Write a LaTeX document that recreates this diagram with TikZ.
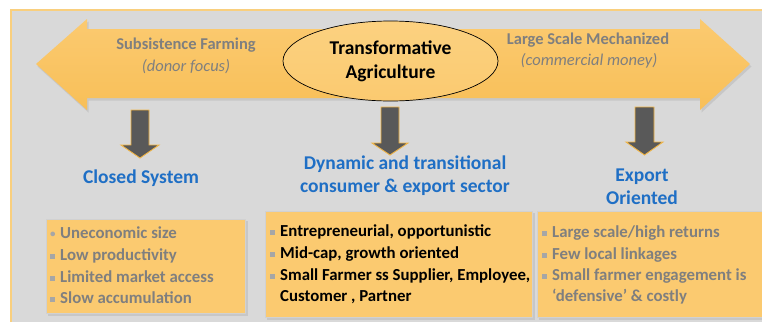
\documentclass[tikz,border=0pt]{standalone}
\usepackage{fontspec}
\setmainfont{Carlito}
\usetikzlibrary{shapes.geometric}
\definecolor{panel}{HTML}{D9D9D9}
\definecolor{panelborder}{HTML}{F9CF7E}
\definecolor{orA}{HTML}{FBCA70}
\definecolor{orB}{HTML}{FDE2A6}
\definecolor{orC}{HTML}{F8BF58}
\definecolor{txtgray}{HTML}{7F7F7F}
\definecolor{headblue}{HTML}{1F6FC5}
\definecolor{bulgray}{HTML}{A6A6A6}
\definecolor{arrdark}{HTML}{595959}
\definecolor{arredge}{HTML}{F2B544}
\newcommand{\sqbul}{\makebox[10bp][l]{\textcolor{bulgray}{\rule[0.1em]{0.26em}{0.26em}}}}
\newcommand{\rdbul}{\makebox[10bp][l]{\textcolor{bulgray}{\fontsize{11bp}{11bp}\selectfont\raisebox{0.12em}{\textbullet}}}}
\tikzset{
  toplabel/.style={text=txtgray, font=\fontsize{16.5bp}{20bp}\selectfont\bfseries, inner sep=0pt},
  topnote/.style={text=txtgray, font=\fontsize{16.5bp}{20bp}\selectfont\itshape, inner sep=0pt},
  heading/.style={text=headblue, font=\fontsize{19.5bp}{23.5bp}\selectfont\bfseries, align=center, inner sep=0pt},
  itemgray/.style={text=txtgray, font=\fontsize{16.8bp}{20bp}\selectfont\bfseries, anchor=mid west, inner sep=0pt},
  itemblack/.style={text=black, font=\fontsize{16.8bp}{20bp}\selectfont\bfseries, anchor=mid west, inner sep=0pt},
  downarr/.style={fill=arrdark, draw=arredge, line width=0.9bp, line join=miter},
  boxshade/.style={top color=orA, middle color=orB, bottom color=orA, draw=black!18, line width=0.6bp},
  boxshadow/.style={fill=black!22},
}
\begin{document}
\begin{tikzpicture}[x=1bp,y=-1bp]
\useasboundingbox (0,0) rectangle (762,322);
\fill[white] (0,0) rectangle (762,322);
% panel
\fill[panel] (11,10) rectangle (762,322);
\draw[panelborder, line width=1.2bp] (11,322) -- (11,10) -- (762,10);
% big double arrow: shadow then body
\fill[black!22, shift={(1.5,2.5)}] (36,64) -- (87,19) -- (87,29) -- (700,29) -- (700,19) -- (750,64) -- (700,110) -- (700,98) -- (87,98) -- (87,110) -- cycle;
\shade[top color=orA, middle color=orB, bottom color=orC]
  (36,64) -- (87,19) -- (87,29) -- (700,29) -- (700,19) -- (750,64) -- (700,110) -- (700,98) -- (87,98) -- (87,110) -- cycle;
% ellipse
\node[ellipse, draw=black, line width=0.7bp, top color=orA!70!orB, middle color=orB!60!white, bottom color=orA,
      minimum width=215bp, minimum height=80bp, inner sep=0pt, align=center,
      font=\fontsize{19.5bp}{24bp}\selectfont\bfseries] (ta) at (390.5,61) {Transformative\\Agriculture};
% top labels
\node[toplabel] (sf) at (186,45.5) {Subsistence Farming};
\node[topnote] (df) at (186,66.5) {(donor focus)};
\node[toplabel] (ls) at (588,40.5) {Large Scale Mechanized};
\node[topnote] (cm) at (589,60.5) {(commercial money)};
% down arrows
\draw[downarr] (131,110) -- (149,110) -- (149,145) -- (159,145) -- (140,158) -- (121,145) -- (131,145) -- cycle;
\draw[downarr] (381,107) -- (399,107) -- (399,143) -- (408,143) -- (390,155) -- (372,143) -- (381,143) -- cycle;
\draw[downarr] (635,107) -- (654,107) -- (654,142) -- (663,142) -- (644.5,155) -- (626,142) -- (635,142) -- cycle;
% headings
\node[heading] (cs) at (141,178) {Closed System};
\node[heading] (dy) at (405,175.5) {Dynamic and transitional\\consumer \& export sector};
\node[heading] (eo) at (642,186.5) {Export\\Oriented};
% boxes
\fill[boxshadow] (48,221) rectangle (248,316);
\shade[boxshade] (46,219) rectangle (245,313);
\fill[boxshadow] (267,213) rectangle (535,320);
\shade[boxshade] (265,211) rectangle (532,317);
\fill[boxshadow] (539,213) rectangle (762,320);
\shade[boxshade] (537,211) rectangle (762,317);
% box 1 items
\node[itemgray] (b1a) at (50,236) {\rdbul Uneconomic size};
\node[itemgray] (b1b) at (50,258) {\sqbul Low productivity};
\node[itemgray] (b1c) at (50,280) {\sqbul Limited market access};
\node[itemgray] (b1d) at (50,301) {\sqbul Slow accumulation};
% box 2 items
\node[itemblack] (b2a) at (270,234) {\sqbul Entrepreneurial, opportunistic};
\node[itemblack] (b2b) at (270,256) {\sqbul Mid-cap, growth oriented};
\node[itemblack] (b2c) at (270,278) {\sqbul Small Farmer ss Supplier, Employee,};
\node[itemblack] (b2d) at (270,299) {\hspace*{10bp}Customer , Partner};
% box 3 items
\node[itemgray] (b3a) at (542,235) {\sqbul Large scale/high returns};
\node[itemgray] (b3b) at (542,257) {\sqbul Few local linkages};
\node[itemgray] (b3c) at (542,278) {\sqbul Small farmer engagement is};
\node[itemgray] (b3d) at (542,299) {\hspace*{10bp}‘defensive’ \& costly};
\end{tikzpicture}
\end{document}
